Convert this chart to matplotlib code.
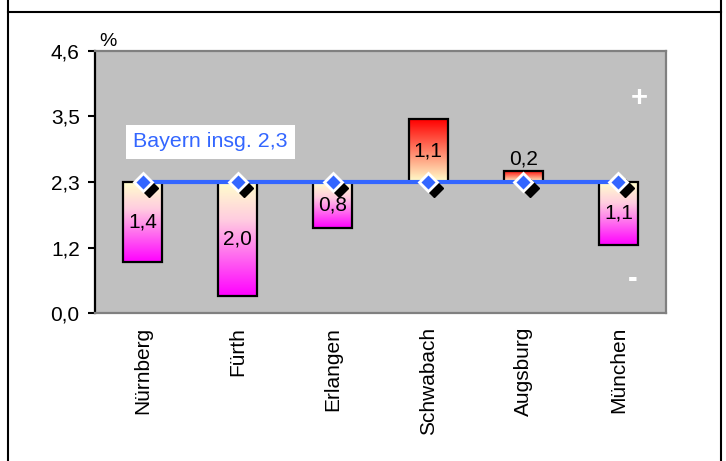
import numpy as np
import matplotlib.pyplot as plt
from matplotlib.colors import LinearSegmentedColormap
from matplotlib.patches import Rectangle
from matplotlib.lines import Line2D
from matplotlib import transforms

plt.rcParams['font.family'] = ['Liberation Sans', 'DejaVu Sans']

# Daten
staedte = ['Nürnberg', 'Fürth', 'Erlangen', 'Schwabach', 'Augsburg', 'München']
abweichung = [-1.4, -2.0, -0.8, 1.1, 0.2, -1.1]   # Abweichung vom Landeswert
bayern = 2.3
y_ticks = [0.0, 1.15, 2.3, 3.45, 4.6]
y_labels = ['0,0', '1,2', '2,3', '3,5', '4,6']

blau = '#3366FF'
cmap_minus = LinearSegmentedColormap.from_list(
    'minus', ['#FF00FF', '#FF66F0', '#FFCCE0', '#FFFFCC'])
cmap_plus = LinearSegmentedColormap.from_list('plus', ['#FFFFCC', '#FF0000'])

fig = plt.figure(figsize=(7.26, 4.61), dpi=100)
ax = fig.add_axes([95 / 726, 148 / 461, 571 / 726, 262 / 461])
ax.set_facecolor('#C0C0C0')

x = np.arange(len(staedte))
breite = 0.41
grad = np.linspace(0, 1, 256).reshape(-1, 1)

for xi, v in zip(x, abweichung):
    unten = min(bayern, bayern + v)
    oben = max(bayern, bayern + v)
    cmap = cmap_plus if v > 0 else cmap_minus
    ax.imshow(grad, cmap=cmap, origin='lower', aspect='auto',
              extent=[xi - breite / 2, xi + breite / 2, unten, oben], zorder=2)
    ax.add_patch(Rectangle((xi - breite / 2, unten), breite, oben - unten,
                           fill=False, edgecolor='black', lw=1.6, zorder=3))
    txt = f'{abs(v):.1f}'.replace('.', ',')
    if oben - unten < 0.5:
        ax.text(xi, oben + 0.03, txt, ha='center', va='bottom', fontsize=15, zorder=6)
    else:
        ax.text(xi, (unten + oben) / 2, txt, ha='center', va='center', fontsize=15, zorder=6)

# Landeslinie mit Markern und Schatten
ax.plot(x, [bayern] * len(x), color=blau, lw=3, zorder=4)
schatten = transforms.offset_copy(ax.transData, fig=fig, x=4.5, y=-4.5, units='points')
ax.plot(x, [bayern] * len(x), ls='none', marker='D', ms=9, color='black',
        transform=schatten, zorder=4.5)
ax.plot(x, [bayern] * len(x), ls='none', marker='D', ms=9, markerfacecolor=blau,
        markeredgecolor='white', mew=2, zorder=5)

ax.text(0.713, 3.01, 'Bayern insg. 2,3', color=blau, fontsize=15.4, ha='center', va='center',
        bbox=dict(boxstyle='square,pad=0.35', facecolor='white', edgecolor='none'), zorder=6)

ax.text(0.953, 0.821, '+', transform=ax.transAxes, color='white', fontsize=21,
        fontweight='bold', ha='center', va='center')
ax.text(0.942, 0.13, '-', transform=ax.transAxes, color='white', fontsize=21,
        fontweight='bold', ha='center', va='center')
ax.text(0.007, 1.003, '%', transform=ax.transAxes, fontsize=14, ha='left', va='bottom')

ax.set_xlim(-0.5, 5.5)
ax.set_ylim(0, 4.6)
ax.set_yticks(y_ticks)
ax.set_yticklabels(y_labels, fontsize=15)
ax.set_xticks(x)
ax.set_xticklabels(staedte, rotation=90, fontsize=15, va='top')
ax.tick_params(axis='x', length=0, pad=10)
ax.tick_params(axis='y', length=5, width=1.5, pad=6)

ax.spines['left'].set_color('black')
ax.spines['left'].set_linewidth(1.6)
for s in ['top', 'right', 'bottom']:
    ax.spines[s].set_color('#808080')
    ax.spines[s].set_linewidth(1.6)

# Rahmen
fig.add_artist(Line2D([7.5 / 726, 7.5 / 726], [0, 1], transform=fig.transFigure, color='black', lw=1.5))
fig.add_artist(Line2D([721 / 726, 721 / 726], [0, 1], transform=fig.transFigure, color='black', lw=1.5))
fig.add_artist(Line2D([7.5 / 726, 721 / 726], [449 / 461, 449 / 461], transform=fig.transFigure,
                      color='black', lw=1.5))

fig.savefig('out.png', dpi=100)
